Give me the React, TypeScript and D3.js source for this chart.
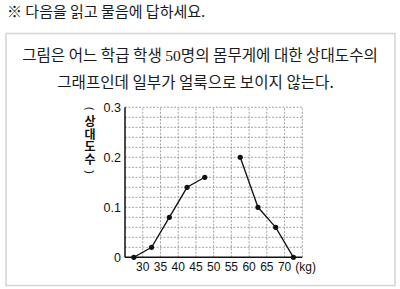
import React from "react";
import * as d3 from "d3";

const leftX = [27.5, 32.5, 37.5, 42.5, 47.5];
const leftY = [0, 0.02, 0.08, 0.14, 0.16];
const rightX = [57.5, 62.5, 67.5, 72.5];
const rightY = [0.2, 0.1, 0.06, 0];
const xTicks = [30, 35, 40, 45, 50, 55, 60, 65, 70];
const yTicks = [0, 0.1, 0.2, 0.3];
const yTickLabels = ["0", "0.1", "0.2", "0.3"];
const yLabelChars = ["상", "대", "도", "수"];

const KR = "'Noto Sans CJK KR', sans-serif";
const SANS = "'Liberation Sans', Arial, sans-serif";

export default function App() {
  const x = d3.scaleLinear().domain([25, 75]).range([125, 302.3]);
  const y = d3.scaleLinear().domain([0, 0.3]).range([257.3, 107.3]);
  const line = d3
    .line<[number, number]>()
    .x((d) => x(d[0]))
    .y((d) => y(d[1]));
  const left: [number, number][] = leftX.map((v, i) => [v, leftY[i]]);
  const right: [number, number][] = rightX.map((v, i) => [v, rightY[i]]);
  const hGrid = d3.range(1, 16).map((i) => i * 0.02);
  const vGrid = d3.range(30, 76, 5);
  const charCy = [122, 134.5, 147, 159.5];

  return (
    <svg
      width={400}
      height={289}
      style={{ position: "absolute", left: 0, top: 0, background: "#fff" }}
    >
      <text x={7} y={17} fontFamily={KR} fontSize={15} fill="#1a1a1a">
        ※ 다음을 읽고 물음에 답하세요.
      </text>
      <rect x={6} y={33.5} width={389} height={252} fill="none" stroke="#d4d4d4" strokeWidth={1.5} />
      <text x={200} y={61} textAnchor="middle" fontFamily={KR} fontSize={15.6} fill="#1a1a1a">
        그림은 어느 학급 학생 <tspan fontFamily="'Liberation Serif', serif">50</tspan>명의 몸무게에 대한 상대도수의
      </text>
      <text x={195.5} y={88} textAnchor="middle" fontFamily={KR} fontSize={15.6} fill="#1a1a1a">
        그래프인데 일부가 얼룩으로 보이지 않는다.
      </text>

      {/* grid */}
      <g stroke="#8a8a8a" strokeWidth={0.8} strokeDasharray="2,1.5">
        {hGrid.map((v) => (
          <line key={"h" + v} x1={x(25)} x2={x(75)} y1={y(v)} y2={y(v)} />
        ))}
        {vGrid.map((v) => (
          <line key={"v" + v} x1={x(v)} x2={x(v)} y1={y(0)} y2={y(0.3)} />
        ))}
      </g>

      {/* axes */}
      <line x1={x(25)} x2={x(25)} y1={y(0.3)} y2={y(0)} stroke="#111" strokeWidth={1.5} />
      <line x1={x(25)} x2={x(75)} y1={y(0)} y2={y(0)} stroke="#111" strokeWidth={1.5} />

      {yTicks.map((v, i) => (
        <text key={"yt" + v} x={121} y={y(v) + 4.5} textAnchor="end" fontFamily={SANS} fontSize={12.5} fill="#111">
          {yTickLabels[i]}
        </text>
      ))}
      {xTicks.map((v) => (
        <text key={"xt" + v} x={x(v)} y={271} textAnchor="middle" fontFamily={SANS} fontSize={12} fill="#111">
          {v}
        </text>
      ))}
      <text x={x(75) - 7} y={271} fontFamily={SANS} fontSize={12} fill="#111">
        (kg)
      </text>

      {/* vertical y-axis label */}
      <text transform="rotate(90 90 108.5)" x={90} y={108.5} textAnchor="middle" dominantBaseline="central" fontFamily={SANS} fontSize={11} fill="#111">
        (
      </text>
      <text fontFamily={KR} fontSize={12} fontWeight={700} fill="#111" textAnchor="middle">
        {yLabelChars.map((c, i) => (
          <tspan key={"yl" + i} x={90} y={charCy[i] + 4.3}>
            {c}
          </tspan>
        ))}
      </text>
      <text transform="rotate(90 90 172)" x={90} y={172} textAnchor="middle" dominantBaseline="central" fontFamily={SANS} fontSize={11} fill="#111">
        )
      </text>

      {/* lines */}
      <path d={line(left) || ""} fill="none" stroke="#111" strokeWidth={1.3} />
      <path d={line(right) || ""} fill="none" stroke="#111" strokeWidth={1.3} />
      {[...left, ...right].map((d, i) => (
        <circle key={"p" + i} cx={x(d[0])} cy={y(d[1])} r={2.6} fill="#111" />
      ))}
    </svg>
  );
}
